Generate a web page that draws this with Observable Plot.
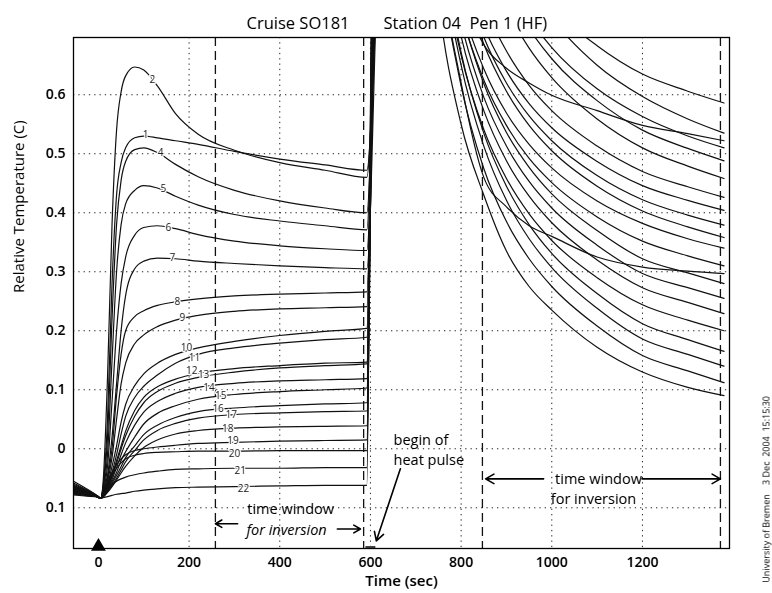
<!DOCTYPE html>
<html><head><meta charset="utf-8">
<script src="https://cdn.jsdelivr.net/npm/d3@7"></script>
<script src="https://cdn.jsdelivr.net/npm/@observablehq/plot@0.6"></script>
<style>
body{margin:0;background:#fff}
#chart{width:772px;height:593px}
#chart svg{filter:grayscale(1)}
#chart svg g[aria-label$="tick label"] text{font-weight:600}
</style>
</head><body><div id="chart"></div>
<script>
// ---------- data ----------
const sensors = ["1","2","4","5","6","7","8","9","10","11","12","13","14","15","16","17","18","19","20","21","22"];

// probe penetration phase (time in s, relative temperature in C)
const tLeft = [-55,-30,0,5,10,20,30,40,50,60,80,100,130,170,220,300,400,500,592];
const leftTemps = [
  [-0.058,-0.068,-0.081,-0.084,-0.065,0.05,0.28,0.43,0.485,0.51,0.527,0.53,0.527,0.522,0.516,0.504,0.491,0.481,0.472],
  [-0.055,-0.066,-0.081,-0.084,-0.06,0.12,0.38,0.54,0.605,0.632,0.647,0.642,0.615,0.568,0.533,0.506,0.485,0.472,0.46],
  [-0.06,-0.069,-0.082,-0.084,-0.068,0.02,0.22,0.38,0.455,0.487,0.507,0.51,0.502,0.482,0.461,0.438,0.42,0.408,0.40],
  [-0.062,-0.07,-0.082,-0.084,-0.07,-0.01,0.15,0.30,0.38,0.415,0.438,0.446,0.442,0.428,0.413,0.397,0.386,0.378,0.371],
  [-0.063,-0.071,-0.082,-0.084,-0.072,-0.03,0.08,0.20,0.28,0.325,0.362,0.375,0.378,0.373,0.363,0.352,0.344,0.339,0.336],
  [-0.064,-0.072,-0.082,-0.084,-0.074,-0.045,0.02,0.11,0.20,0.26,0.305,0.318,0.323,0.322,0.318,0.314,0.31,0.307,0.305],
  [-0.065,-0.072,-0.082,-0.084,-0.076,-0.05,0.0,0.09,0.16,0.20,0.224,0.234,0.243,0.249,0.254,0.259,0.262,0.264,0.266],
  [-0.066,-0.073,-0.082,-0.084,-0.077,-0.055,-0.015,0.05,0.11,0.145,0.178,0.193,0.207,0.218,0.226,0.233,0.237,0.239,0.241],
  [-0.067,-0.073,-0.082,-0.084,-0.078,-0.06,-0.03,0.005,0.045,0.075,0.107,0.127,0.145,0.16,0.171,0.182,0.192,0.199,0.204],
  [-0.067,-0.074,-0.082,-0.084,-0.079,-0.063,-0.04,-0.01,0.025,0.055,0.087,0.106,0.125,0.145,0.16,0.171,0.179,0.185,0.189],
  [-0.068,-0.074,-0.082,-0.084,-0.079,-0.065,-0.045,-0.02,0.005,0.03,0.065,0.087,0.105,0.118,0.128,0.136,0.141,0.145,0.147],
  [-0.069,-0.075,-0.082,-0.084,-0.08,-0.066,-0.048,-0.025,0.0,0.022,0.055,0.078,0.097,0.111,0.121,0.13,0.137,0.141,0.144],
  [-0.07,-0.075,-0.082,-0.084,-0.08,-0.068,-0.052,-0.032,-0.01,0.01,0.04,0.062,0.08,0.094,0.104,0.111,0.115,0.117,0.119],
  [-0.071,-0.076,-0.082,-0.084,-0.081,-0.07,-0.056,-0.04,-0.02,-0.005,0.02,0.042,0.06,0.073,0.084,0.092,0.097,0.10,0.103],
  [-0.072,-0.076,-0.082,-0.084,-0.081,-0.071,-0.059,-0.045,-0.03,-0.015,0.005,0.024,0.04,0.053,0.063,0.069,0.073,0.076,0.078],
  [-0.073,-0.077,-0.082,-0.084,-0.082,-0.073,-0.062,-0.05,-0.036,-0.022,-0.003,0.015,0.031,0.043,0.052,0.058,0.061,0.063,0.064],
  [-0.074,-0.077,-0.082,-0.084,-0.082,-0.074,-0.064,-0.053,-0.041,-0.03,-0.012,0.002,0.015,0.025,0.031,0.035,0.037,0.038,0.039],
  [-0.075,-0.078,-0.082,-0.084,-0.078,-0.058,-0.04,-0.027,-0.017,-0.01,-0.003,0.0,0.003,0.006,0.009,0.011,0.013,0.014,0.015],
  [-0.076,-0.078,-0.082,-0.084,-0.079,-0.062,-0.045,-0.033,-0.024,-0.017,-0.011,-0.008,-0.006,-0.005,-0.004,-0.004,-0.003,-0.003,-0.003],
  [-0.077,-0.079,-0.082,-0.084,-0.08,-0.068,-0.06,-0.055,-0.051,-0.048,-0.044,-0.041,-0.038,-0.035,-0.034,-0.033,-0.033,-0.032,-0.032],
  [-0.078,-0.08,-0.082,-0.084,-0.083,-0.081,-0.079,-0.077,-0.076,-0.075,-0.072,-0.07,-0.068,-0.066,-0.065,-0.064,-0.063,-0.062,-0.062]
];

// heat pulse: time (per sensor) at which each trace leaves the top of the chart
const pulseTime = [616,614,612,610,613,615,611,609,607,610,608,606,609,607,605,608,606,604,607,605,604];
const pulseTemp = [0.8];

// heat pulse decay phase
const tRight = [700,750,800,850,900,950,1000,1100,1200,1300,1380];
const rightTemps = [
  [1.76,1.31,1.09,0.95,0.86,0.80,0.75,0.683,0.635,0.606,0.586],
  [1.5,1.0,0.78,0.685,0.645,0.62,0.599,0.573,0.548,0.534,0.522],
  [1.93,1.40,1.13,0.97,0.863,0.787,0.73,0.65,0.597,0.559,0.535],
  [1.73,1.26,1.03,0.89,0.797,0.73,0.68,0.61,0.563,0.53,0.51],
  [1.73,1.25,1.02,0.874,0.779,0.712,0.661,0.59,0.54,0.509,0.488],
  [1.68,1.21,0.98,0.84,0.746,0.679,0.629,0.559,0.51,0.479,0.458],
  [1.48,1.08,0.875,0.754,0.674,0.616,0.573,0.513,0.47,0.444,0.426],
  [1.41,1.02,0.831,0.716,0.64,0.585,0.544,0.487,0.446,0.421,0.404],
  [1.40,1.01,0.816,0.698,0.62,0.564,0.522,0.463,0.422,0.396,0.379],
  [1.41,1.01,0.807,0.686,0.606,0.548,0.505,0.445,0.403,0.376,0.358],
  [1.31,0.941,0.755,0.644,0.569,0.516,0.476,0.42,0.382,0.356,0.34],
  [1.32,0.934,0.741,0.625,0.548,0.492,0.451,0.393,0.352,0.327,0.31],
  [1.3,0.85,0.62,0.46,0.41,0.378,0.36,0.325,0.308,0.301,0.297],
  [1.37,0.952,0.744,0.619,0.536,0.477,0.432,0.37,0.322,0.298,0.28],
  [1.35,0.931,0.722,0.596,0.513,0.453,0.408,0.345,0.297,0.273,0.255],
  [1.33,0.91,0.699,0.573,0.488,0.428,0.383,0.32,0.273,0.248,0.229],
  [1.30,0.876,0.667,0.541,0.458,0.398,0.353,0.29,0.244,0.218,0.20],
  [1.35,0.899,0.672,0.535,0.445,0.38,0.331,0.263,0.212,0.185,0.165],
  [1.34,0.878,0.65,0.513,0.421,0.356,0.307,0.238,0.186,0.16,0.14],
  [1.31,0.85,0.615,0.475,0.385,0.322,0.275,0.208,0.158,0.132,0.112],
  [1.20,0.76,0.55,0.43,0.335,0.275,0.235,0.172,0.13,0.104,0.09]
];

// sensor number labels on the curves
const labelText = ["2","1","4","5","6","7","8","9","10","11","12","13","14","15","16","17","18","19","20","21","22"];
const labelTime = [119,104,137,143,154,163,174,185,194,212,206,232,244,270,264,293,285,297,300,313,320];
const labelTemp = [0.626,0.532,0.502,0.440,0.375,0.324,0.249,0.222,0.171,0.154,0.132,0.126,0.104,0.090,0.068,0.058,0.034,0.014,-0.009,-0.037,-0.068];

// axes
const xTicks = [0,200,400,600,800,1000,1200];
const xGrid = [200,400,600,800,1000,1200];
const yTicks = [-0.1,0,0.1,0.2,0.3,0.4,0.5,0.6];
const windowTimes = [258,585,847,1372];

// annotations
const annCenterText = ["time window","time window","for inversion"];
const annCenterTime = [424,1103,1092];
const annCenterTemp = [-0.102,-0.051,-0.085];
const annStartText = ["begin of","heat pulse"];
const annStartTime = [651,651];
const annStartTemp = [0.015,-0.019];
const annItalic = ["for inversion"];
const annItalicTime = [415];
const annItalicTemp = [-0.139];
const arrowT1 = [307,527,982,1199,666];
const arrowT2 = [258,578,854,1372,613];
const arrowV1 = [-0.127,-0.136,-0.051,-0.051,-0.034];
const arrowV2 = [-0.127,-0.136,-0.051,-0.051,-0.156];

// ---------- build tables ----------
const rows = [];
sensors.forEach((s, i) => {
  tLeft.forEach((t, j) => rows.push({sensor: s, t, v: leftTemps[i][j]}));
  rows.push({sensor: s, t: pulseTime[i], v: pulseTemp[0]});
  tRight.forEach((t, j) => rows.push({sensor: s, t, v: rightTemps[i][j]}));
});
const labels = labelText.map((text, i) => ({text, t: labelTime[i], v: labelTemp[i]}));
const annC = annCenterText.map((text, i) => ({text, t: annCenterTime[i], v: annCenterTemp[i]}));
const annS = annStartText.map((text, i) => ({text, t: annStartTime[i], v: annStartTemp[i]}));
const annI = annItalic.map((text, i) => ({text, t: annItalicTime[i], v: annItalicTemp[i]}));
const arrows = arrowT1.map((x1, i) => ({x1, x2: arrowT2[i], y1: arrowV1[i], y2: arrowV2[i]}));

const yMin = -0.169, yMax = 0.697;
const font = "'Open Sans', 'Noto Sans', sans-serif";

const chart = Plot.plot({
  width: 772, height: 593,
  marginLeft: 73, marginRight: 43, marginTop: 37, marginBottom: 45,
  style: {fontFamily: font, fontSize: "14px", color: "black", background: "white", overflow: "visible"},
  x: {domain: [-55, 1392], ticks: xTicks, tickSize: 0, tickPadding: 9, label: null, tickFormat: d => String(d)},
  y: {domain: [yMin, yMax], ticks: yTicks, tickSize: 0, tickPadding: 8, label: null,
      tickFormat: d => d === 0 ? "0" : Math.abs(d).toFixed(1)},
  marks: [
    Plot.ruleX(xGrid, {stroke: "#222", strokeWidth: 1, strokeDasharray: "1.3,4"}),
    Plot.ruleY(yTicks, {stroke: "#222", strokeWidth: 1, strokeDasharray: "1.3,4"}),
    Plot.ruleX(windowTimes, {stroke: "#111", strokeWidth: 1.3, strokeDasharray: "9,5"}),
    Plot.line(rows, {x: "t", y: "v", z: "sensor", stroke: "#111", strokeWidth: 1.2, curve: "monotone-x", clip: true}),
    Plot.text(labels, {x: "t", y: "v", text: "text", fontSize: 10, fill: "#222", stroke: "white", strokeWidth: 2.5}),
    Plot.text(annC, {x: "t", y: "v", text: "text", fontSize: 14.5, fill: "black"}),
    Plot.text(annS, {x: "t", y: "v", text: "text", fontSize: 14.5, fill: "black", textAnchor: "start"}),
    Plot.text(annI, {x: "t", y: "v", text: "text", fontSize: 14.5, fontStyle: "italic", fill: "black"}),
    Plot.arrow(arrows, {x1: "x1", y1: "y1", x2: "x2", y2: "y2", stroke: "black", strokeWidth: 1.6, headLength: 9}),
    Plot.dot([0], {x: d => d, y: () => yMin, symbol: "triangle", r: 5.5, fill: "black", dy: -2}),
    Plot.ruleY([yMin], {x1: 590, x2: 612, stroke: "#444", strokeWidth: 3, dy: -1}),
    Plot.frame({stroke: "black", strokeWidth: 1.3}),
    Plot.text(["Cruise SO181"], {frameAnchor: "top-left", dx: 173, dy: -20, textAnchor: "start", fontSize: 16.5}),
    Plot.text(["Station 04\u00a0\u00a0Pen 1 (HF)"], {frameAnchor: "top-left", dx: 310, dy: -20, textAnchor: "start", fontSize: 16.5}),
    Plot.text(["Time (sec)"], {frameAnchor: "bottom", dy: 37, fontSize: 15, fontWeight: "600"}),
    Plot.text(["Relative Temperature (C)"], {frameAnchor: "left", dx: -54, rotate: -90, fontSize: 15}),
    Plot.text(["University of Bremen\u00a0\u00a0\u00a0\u00a03 Dec\u00a0\u00a02004\u00a0\u00a015:15:30"],
      {frameAnchor: "right", dx: 37, dy: 103, rotate: -90, fontSize: 9})
  ]
});
document.getElementById("chart").append(chart);
</script>
</body></html>
